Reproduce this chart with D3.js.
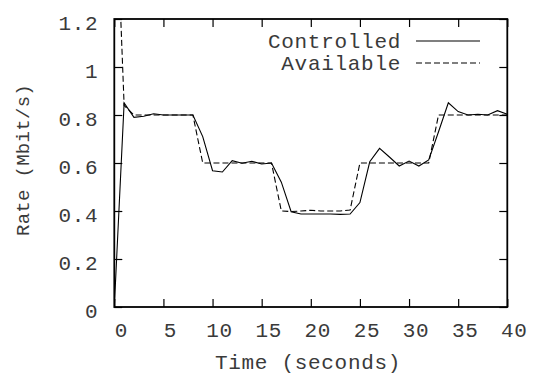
<!DOCTYPE html>
<html>
<head>
<meta charset="utf-8">
<script src="https://cdn.jsdelivr.net/npm/d3@7"></script>
<style>
body { margin: 0; background: #fff; }
svg text { font-family: "Liberation Mono", "DejaVu Sans Mono", monospace; font-size: 21px; letter-spacing: 0.7px; fill: #3a3a3a; }
</style>
</head>
<body>
<svg id="chart" width="534" height="376"></svg>
<script>
// rate data, one sample per second
var times = d3.range(0, 41);
var controlled = [0, 0.85, 0.79, 0.795, 0.805, 0.8, 0.8, 0.8, 0.8, 0.71,
	0.568, 0.5625, 0.61, 0.599, 0.607, 0.596, 0.6, 0.52, 0.397, 0.3875,
	0.3875, 0.3875, 0.3875, 0.386, 0.3875, 0.435, 0.605, 0.661, 0.625, 0.5875,
	0.608, 0.5875, 0.6125, 0.73, 0.851, 0.814, 0.8, 0.803, 0.8, 0.818, 0.803];
var available = [1.9, 0.84, 0.8, 0.8, 0.8, 0.8, 0.8, 0.8, 0.8, 0.6,
	0.6, 0.6, 0.6, 0.6, 0.6, 0.6, 0.6, 0.4, 0.398, 0.4,
	0.403, 0.4, 0.4, 0.4, 0.404, 0.6, 0.6, 0.6, 0.6, 0.6,
	0.6, 0.6, 0.6, 0.8, 0.8, 0.8, 0.8, 0.8, 0.8, 0.8, 0.8];
var xTicks = [0, 5, 10, 15, 20, 25, 30, 35, 40];
var yTicks = [0, 0.2, 0.4, 0.6, 0.8, 1, 1.2];
var seriesNames = ['Controlled', 'Available'];

var margin = {left: 114.3, right: 26.7, top: 19, bottom: 69};
var width = 534, height = 376;

var svg = d3.select('#chart');

var x = d3.scaleLinear().domain([0, 40]).range([margin.left, width - margin.right]);
var y = d3.scaleLinear().domain([0, 1.2]).range([height - margin.bottom, margin.top]);

svg.append('clipPath').attr('id', 'plotclip')
	.append('rect')
	.attr('x', x(0)).attr('y', y(1.2))
	.attr('width', x(40) - x(0)).attr('height', y(0) - y(1.2));

var tickLen = 8;

// bottom axis with labels
var bottom = svg.append('g')
	.attr('transform', 'translate(0,' + y(0) + ')')
	.call(d3.axisBottom(x).tickValues(xTicks).tickFormat(d3.format('d'))
		.tickSizeInner(-tickLen).tickSizeOuter(0).tickPadding(17));
bottom.selectAll('text').attr('dx', 6.5).attr('dy', '0.6em');

// left axis with labels
var left = svg.append('g')
	.attr('transform', 'translate(' + x(0) + ',0)')
	.call(d3.axisLeft(y).tickValues(yTicks).tickFormat(function(d){ return d3.format('')(d); })
		.tickSizeInner(-tickLen).tickSizeOuter(0).tickPadding(16));
left.selectAll('text').attr('dy', '0.48em');

// mirrored ticks, no labels
svg.append('g')
	.attr('transform', 'translate(0,' + y(1.2) + ')')
	.call(d3.axisTop(x).tickValues(xTicks).tickFormat('').tickSizeInner(-tickLen).tickSizeOuter(0));
svg.append('g')
	.attr('transform', 'translate(' + x(40) + ',0)')
	.call(d3.axisRight(y).tickValues(yTicks).tickFormat('').tickSizeInner(-tickLen).tickSizeOuter(0));

svg.selectAll('.domain').remove();
svg.selectAll('.tick line').attr('stroke', '#000').attr('stroke-width', 1.2);

// frame
svg.append('rect')
	.attr('x', x(0)).attr('y', y(1.2))
	.attr('width', x(40) - x(0)).attr('height', y(0) - y(1.2))
	.attr('fill', 'none').attr('stroke', '#000').attr('stroke-width', 1.8);

var line = d3.line()
	.x(function(d){ return x(d[0]); })
	.y(function(d){ return y(d[1]); });

var plot = svg.append('g').attr('clip-path', 'url(#plotclip)');

plot.append('path')
	.datum(d3.zip(times, controlled))
	.attr('d', line)
	.attr('fill', 'none').attr('stroke', '#000').attr('stroke-width', 1.1);

plot.append('path')
	.datum(d3.zip(times, available))
	.attr('d', line)
	.attr('fill', 'none').attr('stroke', '#000').attr('stroke-width', 1.1)
	.attr('stroke-dasharray', '6,3');

// legend
var legend = svg.append('g');
seriesNames.forEach(function(name, i){
	var ly = 41 + i * 22;
	legend.append('text')
		.attr('x', 401).attr('y', ly)
		.attr('dy', '0.33em')
		.attr('text-anchor', 'end')
		.text(name);
	legend.append('line')
		.attr('x1', 416).attr('x2', 480)
		.attr('y1', ly).attr('y2', ly)
		.attr('stroke', '#000').attr('stroke-width', 1.1)
		.attr('stroke-dasharray', i == 1 ? '6,3' : null);
});

// axis titles
svg.append('text')
	.attr('x', 308).attr('y', 362)
	.attr('dy', '0.35em')
	.attr('text-anchor', 'middle')
	.text('Time (seconds)');

svg.append('text')
	.attr('transform', 'translate(22,160) rotate(-90)')
	.attr('dy', '0.35em')
	.attr('text-anchor', 'middle')
	.style('font-size', '19px')
	.style('letter-spacing', '0.3px')
	.text('Rate (Mbit/s)');
</script>
</body>
</html>
